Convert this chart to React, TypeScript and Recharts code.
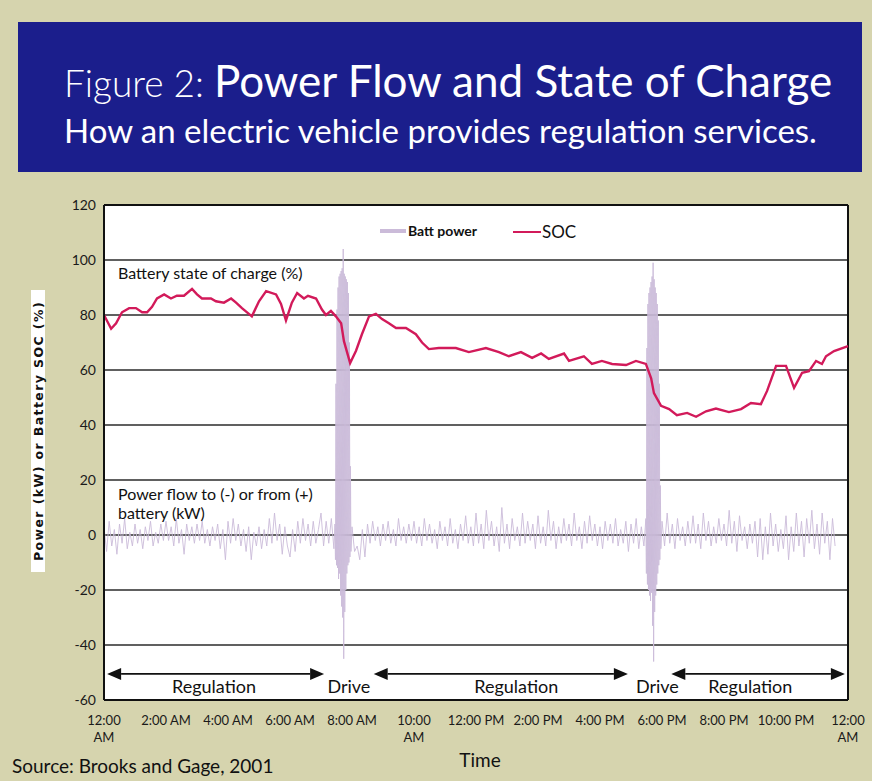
import React from "react"
import {
  CartesianGrid,
  ComposedChart,
  Line,
  ReferenceDot,
  ReferenceLine,
  XAxis,
  YAxis,
} from "recharts"

// SOC (%), hour of day -> value
const socHours = [
  0, 0.23, 0.39, 0.58, 0.81, 1.03, 1.23, 1.39, 1.55, 1.71, 1.94, 2.16, 2.35, 2.58, 2.84, 3.0,
  3.16, 3.45, 3.61, 3.87, 4.1, 4.26, 4.45, 4.77, 5.0, 5.23, 5.55, 5.71, 5.87, 6.06, 6.23, 6.45,
  6.58, 6.84, 7.03, 7.16, 7.32, 7.48, 7.65, 7.74, 7.94, 8.13, 8.32, 8.55, 8.77, 8.97, 9.19, 9.42,
  9.74, 10.06, 10.26, 10.48, 10.8, 11.13, 11.35, 11.77, 12.32, 12.74, 13.06, 13.45, 13.81, 14.1,
  14.35, 14.84, 15.0, 15.48, 15.74, 16.06, 16.39, 16.84, 17.16, 17.48, 17.65, 17.74, 17.97, 18.23,
  18.48, 18.81, 19.1, 19.42, 19.74, 20.16, 20.55, 20.87, 21.19, 21.39, 21.68, 22.0, 22.26, 22.52,
  22.74, 22.97, 23.16, 23.29, 23.55, 24.0,
]
const socValues = [
  80, 75, 77, 81, 82.5, 82.5, 81, 81, 83, 86, 87.5, 86, 87, 87, 89.5, 87.5,
  86, 86, 85, 84.5, 86, 84.5, 82.5, 79.5, 85, 88.7, 87.5, 84, 78, 84.5, 88, 86,
  87, 86, 82, 80, 81.5, 79.5, 77, 70.5, 62.5, 67, 73, 79.5, 80.4, 78.5, 77, 75.3,
  75.3, 73, 70, 67.6, 68, 68, 68, 66.5, 68, 66.5, 65, 66.5, 64.4, 66,
  64, 66, 63.3, 65, 62.2, 63.3, 62.2, 61.8, 63.3, 62.2, 57, 51.6, 47, 45.8,
  43.6, 44.4, 43, 45, 46, 44.7, 45.8, 48, 47.6, 52.4, 61.5, 61.5, 53.5, 59,
  59.6, 63.3, 62.2, 65, 66.9, 68.7,
]

// battery power (kW) during regulation, one row per hour, 5-minute readings
const powerRows = [
  [3, -6, 5, -4, 2, -7, 4, -3, 6, -5, 1, -4],
  [4, -3, 2, -5, 3, -2, 5, -4, 1, -3, 4, -2],
  [5, -2, 3, -4, 6, -3, 2, -7, 4, -2, 3, -3],
  [4, -2, 5, -3, 2, -4, 3, -2, 4, -5, 2, -9],
  [5, -3, 6, -2, 4, -4, 2, -6, 3, -9, 1, -4],
  [3, -5, 2, -4, 6, -3, 8, -2, 4, -7, 3, -4],
  [-8, 2, -6, 5, -3, 6, -2, 4, -4, 5, -3, 2],
  [8, -4, 5, -3, 6, -5],
  [3, -6, -4, -9, 2, -8, 4, -3, 5, -2, 3, -4],
  [4, -2, 5, -3, 2, -4, 6, -2, 3, -3, 4, -2],
  [5, -3, 3, -4, 6, -2, 4, -3, 2, -5, 5, -2],
  [3, -4, 6, -3, 2, -5, 4, -2, 7, -3, 3, -4],
  [8, -3, 4, -5, 9, -2, 5, -4, 3, -6, 10, -3],
  [4, -5, 6, -2, 3, -4, 8, -3, 5, -2, 4, -5],
  [7, -3, 3, -4, 9, -2, 5, -5, 3, -3, 6, -2],
  [4, -4, 8, -2, 3, -5, 5, -3, 7, -2, 4, -4],
  [3, -5, 5, -2, 4, -3, 6, -4, 2, -3, 5, -6],
  [4, -3, 6, -5, 3, -4],
  [5, -4, 8, -3, 4, -5, 6, -2, 3, -4, 5, -3],
  [7, -3, 4, -5, 8, -2, 5, -4, 3, -3, 6, -2],
  [4, -4, 9, -3, 5, -6, 7, -2, 3, -5, 4, -3],
  [5, -8, 6, -9, 3, -7, 8, -4, 4, -6, 2, -5],
  [7, -9, 3, -6, 8, -4, 5, -8, 6, -3, 9, -5],
  [4, -7, 8, -3, 5, -9, 6, -4],
]

// drive periods, 1-minute readings
const drive1Start = 7.45
const drive1Values = [
  4, -9, 55, -11, 82, -12, 90, -16, 94, -14, 95, -22, 96, -26, 97, -30,
  104, -45, 95, -28, 94, -20, 93, -14, 92, -11, 88, -10, 70, -8, 25, -6,
]
const drive2Start = 17.48
const drive2Values = [
  6, -14, 68, -18, 84, -20, 88, -22, 90, -24, 92, -21, 94, -33, 99,
  -46, 93, -28, 90, -22, 88, -18, 84, -14, 78, -11, 55, -9, 18, -5,
]

const xTicks = [0, 2, 4, 6, 8, 10, 12, 14, 16, 18, 20, 22, 24]
const xTickLabels = [
  ["12:00", "AM"], ["2:00 AM"], ["4:00 AM"], ["6:00 AM"], ["8:00 AM"], ["10:00", "AM"],
  ["12:00 PM"], ["2:00 PM"], ["4:00 PM"], ["6:00 PM"], ["8:00 PM"], ["10:00 PM"], ["12:00", "AM"],
]
const yTicks = [-60, -40, -20, 0, 20, 40, 60, 80, 100, 120]

// annotation spans (hours)
const regulationSpans = [[0.1, 7.1], [8.7, 16.9], [18.3, 23.9]]
const regulationLabelAt = [3.55, 13.3, 20.85]
const driveLabelAt = [7.9, 17.85]

const SOC_COLOR = "#d21a5a"
const POWER_COLOR = "#cbbbd9"
const FONT = "Lato, 'Open Sans', sans-serif"

type Row = { t: number; power?: number; soc?: number }

function buildData(): Row[] {
  const rows: Row[] = []
  powerRows.forEach((row, h) => {
    row.forEach((v, i) => rows.push({ t: h + i / 12, power: v }))
  })
  drive1Values.forEach((v, i) => rows.push({ t: drive1Start + i / 60, power: v }))
  drive2Values.forEach((v, i) => rows.push({ t: drive2Start + i / 60, power: v }))
  socHours.forEach((h, i) => rows.push({ t: h, soc: socValues[i] }))
  return rows.sort((a, b) => a.t - b.t)
}

const data = buildData()

function TimeTick(props: any) {
  const { x, y, payload } = props
  const idx = xTicks.indexOf(payload.value)
  const lines = xTickLabels[idx] || []
  return (
    <text x={x} y={y} textAnchor="middle" fill="#1a1a1a" fontSize={13} fontFamily={FONT}>
      {lines.map((l, i) => (
        <tspan key={i} x={x} dy={17}>
          {l}
        </tspan>
      ))}
    </text>
  )
}

function Arrow(props: any) {
  const { x1, x2, y1 } = props
  const y = y1
  const a = 14
  const h = 6
  return (
    <g>
      <line x1={x1 + a} x2={x2 - a} y1={y} y2={y} stroke="#111" strokeWidth={1.6} />
      <polygon points={`${x1},${y} ${x1 + a},${y - h} ${x1 + a},${y + h}`} fill="#111" />
      <polygon points={`${x2},${y} ${x2 - a},${y - h} ${x2 - a},${y + h}`} fill="#111" />
    </g>
  )
}

function spanLabel(text: string) {
  return (p: any) => (
    <text x={p.cx} y={p.cy} textAnchor="middle" fontSize={18} fill="#111" fontFamily={FONT}>
      {text}
    </text>
  )
}

export default function App() {
  return (
    <div
      style={{
        position: "absolute",
        left: 0,
        top: 0,
        width: 872,
        height: 781,
        background: "#d6d4ae",
        overflow: "hidden",
      }}
    >
      <ComposedChart
        width={872}
        height={781}
        data={data}
        margin={{ top: 205, right: 24, left: 0, bottom: 0 }}
      >
        <CartesianGrid vertical={false} fill="#ffffff" stroke="#2b2b2b" strokeWidth={1.5} />
        <XAxis
          dataKey="t"
          type="number"
          domain={[0, 24]}
          ticks={xTicks}
          height={81}
          tick={<TimeTick />}
          tickLine={false}
          axisLine={{ stroke: "#111", strokeWidth: 2 }}
          interval={0}
        />
        <YAxis
          type="number"
          domain={[-60, 120]}
          ticks={yTicks}
          width={104}
          interval={0}
          tickLine={false}
          axisLine={{ stroke: "#111", strokeWidth: 2 }}
          tick={{ fontSize: 14, fill: "#1a1a1a", fontFamily: FONT }}
        />
        <ReferenceLine x={24} stroke="#111" strokeWidth={2} />
        <ReferenceLine y={120} stroke="#111" strokeWidth={2} />
        <Line
          dataKey="power"
          type="linear"
          stroke={POWER_COLOR}
          strokeWidth={0.9}
          dot={false}
          connectNulls
          isAnimationActive={false}
        />
        <Line
          dataKey="soc"
          type="linear"
          stroke={SOC_COLOR}
          strokeWidth={2.4}
          dot={false}
          connectNulls
          isAnimationActive={false}
        />
        {regulationSpans.map((s, i) => (
          <ReferenceLine
            key={`arrow-${i}`}
            segment={[
              { x: s[0], y: -50.5 },
              { x: s[1], y: -50.5 },
            ]}
            shape={<Arrow />}
          />
        ))}
        {regulationLabelAt.map((h, i) => (
          <ReferenceDot key={`reg-${i}`} x={h} y={-57.5} r={0} shape={spanLabel("Regulation")} />
        ))}
        {driveLabelAt.map((h, i) => (
          <ReferenceDot key={`drv-${i}`} x={h} y={-57.5} r={0} shape={spanLabel("Drive")} />
        ))}
      </ComposedChart>

      <svg
        width={872}
        height={781}
        style={{ position: "absolute", left: 0, top: 0, pointerEvents: "none" }}
        fontFamily={FONT}
      >
        <rect x={18} y={22} width={844} height={150} fill="#1b1e8c" />
        <text x={64} y={97} fill="#fff">
          <tspan fontSize={37} fontWeight={300}>Figure 2: </tspan>
          <tspan fontSize={44}>Power Flow and State of Charge</tspan>
        </text>
        <text x={64} y={143} fill="#fff" fontSize={33}>
          How an electric vehicle provides regulation services.
        </text>

        <rect x={31} y={290} width={14} height={282} fill="#fff" />
        <text
          x={38}
          y={431}
          transform="rotate(-90, 38, 431)"
          textAnchor="middle"
          dominantBaseline="central"
          fontSize={12.5}
          fontWeight={700}
          letterSpacing={1.4}
          fontFamily="'DejaVu Sans', sans-serif"
          fill="#111"
        >
          Power (kW) or Battery SOC (%)
        </text>

        <line x1={380} x2={406} y1={231} y2={231} stroke={POWER_COLOR} strokeWidth={4} />
        <text x={408} y={236} fontSize={14} fontWeight={700} fill="#111">
          Batt power
        </text>
        <line x1={513} x2={541} y1={232} y2={232} stroke={SOC_COLOR} strokeWidth={2} />
        <text x={542} y={238} fontSize={17} fill="#111">
          SOC
        </text>

        <text x={118} y={279} fontSize={16} fill="#111">
          Battery state of charge (%)
        </text>
        <text x={118} y={500} fontSize={16} fill="#111">
          Power flow to (-) or from (+)
        </text>
        <text x={118} y={519} fontSize={16} fill="#111">
          battery (kW)
        </text>

        <text x={480} y={767} textAnchor="middle" fontSize={19} fill="#111">
          Time
        </text>
        <text x={12} y={773} fontSize={19} fill="#111">
          Source: Brooks and Gage, 2001
        </text>
      </svg>
    </div>
  )
}
